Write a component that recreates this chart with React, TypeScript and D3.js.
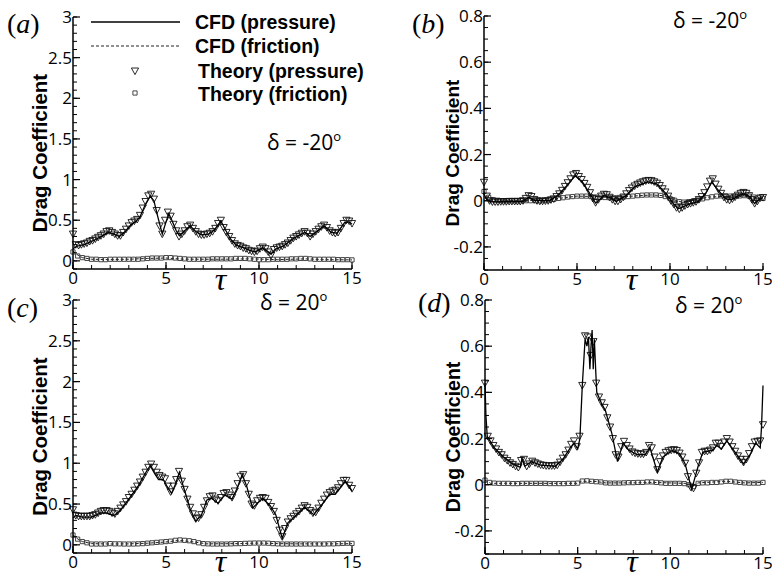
import React from "react";
import * as d3 from "d3";

const width = 772;
const height = 574;

// tau positions of the theory markers
const tauP = d3.range(0, 101).map((i) => +(i * 0.15).toFixed(2));
const tauF = d3.range(0, 61).map((i) => i * 0.25);

const xTicks = [0, 5, 10, 15];
const leftTicks = [0, 0.5, 1, 1.5, 2, 2.5, 3];
const rightTicks = [-0.2, 0, 0.2, 0.4, 0.6, 0.8];

const legendLabels = ["CFD (pressure)", "CFD (friction)", "Theory (pressure)", "Theory (friction)"];

// ---- panel (a) delta = -20, large scale
const aTheoryP = [
  0.33, 0.2, 0.19, 0.2, 0.21, 0.22, 0.24, 0.25, 0.27, 0.29, 0.31, 0.33, 0.36, 0.37, 0.35, 0.33, 0.31, 0.31, 0.35, 0.39,
  0.43, 0.47, 0.49, 0.51, 0.56, 0.65, 0.73, 0.8, 0.82, 0.76, 0.62, 0.43, 0.33, 0.5, 0.6, 0.55, 0.45, 0.37, 0.3, 0.33,
  0.37, 0.42, 0.44, 0.4, 0.36, 0.33, 0.32, 0.32, 0.33, 0.34, 0.36, 0.4, 0.46, 0.5, 0.41, 0.35, 0.3, 0.25, 0.21, 0.19,
  0.18, 0.16, 0.15, 0.13, 0.12, 0.11, 0.12, 0.15, 0.17, 0.15, 0.11, 0.07, 0.14, 0.16, 0.17, 0.18, 0.2, 0.22, 0.25, 0.28,
  0.3, 0.32, 0.34, 0.36, 0.34, 0.3, 0.33, 0.36, 0.39, 0.42, 0.44, 0.41, 0.37, 0.35, 0.34, 0.35, 0.4, 0.46, 0.5, 0.49,
  0.46,
];
const aTheoryF = [
  0.11, 0.06, 0.04, 0.03, 0.02, 0.02, 0.015, 0.015, 0.02, 0.02, 0.02, 0.02, 0.02, 0.02, 0.02, 0.025, 0.03, 0.035, 0.035, 0.035,
  0.04, 0.04, 0.035, 0.03, 0.025, 0.02, 0.02, 0.02, 0.02, 0.02, 0.025, 0.025, 0.025, 0.025, 0.025, 0.03, 0.03, 0.03, 0.025, 0.02,
  0.015, 0.015, 0.015, 0.02, 0.02, 0.02, 0.02, 0.025, 0.025, 0.03, 0.03, 0.025, 0.02, 0.02, 0.02, 0.02, 0.02, 0.015, 0.015, 0.015,
  0.012,
];
const aCfdP = [
  [0, 0.15], [0.2, 0.18], [0.6, 0.2], [1.2, 0.26], [1.6, 0.31], [1.9, 0.35], [2.2, 0.33], [2.5, 0.3], [2.8, 0.36],
  [3.1, 0.44], [3.4, 0.49], [3.6, 0.54], [3.9, 0.7], [4.15, 0.8], [4.35, 0.74], [4.55, 0.55], [4.8, 0.33], [5.0, 0.48],
  [5.15, 0.58], [5.35, 0.48], [5.55, 0.37], [5.72, 0.31], [6.0, 0.37], [6.3, 0.43], [6.6, 0.36], [6.9, 0.32], [7.3, 0.33],
  [7.6, 0.38], [7.95, 0.49], [8.2, 0.38], [8.5, 0.26], [8.8, 0.19], [9.2, 0.16], [9.5, 0.13], [9.8, 0.11], [10.2, 0.16],
  [10.45, 0.12], [10.65, 0.08], [10.85, 0.14], [11.3, 0.18], [11.8, 0.27], [12.2, 0.32], [12.5, 0.35], [12.75, 0.3],
  [13.1, 0.36], [13.5, 0.43], [13.9, 0.35], [14.2, 0.34], [14.6, 0.47], [14.85, 0.48], [15, 0.45],
];
const aCfdF = [
  [0, 0.12], [0.2, 0.08], [0.5, 0.04], [1, 0.02], [2, 0.015], [3, 0.02], [4, 0.03], [5, 0.035], [6, 0.02], [8, 0.02],
  [9.5, 0.025], [11, 0.015], [12.5, 0.025], [13.5, 0.015], [15, 0.012],
];

// ---- panel (b) delta = -20, small scale
const bTheoryP = [
  0.08, 0.02, 0.0, -0.005, -0.005, -0.005, -0.004, -0.004, -0.004, -0.003, -0.003, -0.003, -0.003, -0.003, 0.0, 0.01, 0.022, 0.018, 0.005, 0.0,
  -0.002, -0.002, -0.001, 0.0, 0.004, 0.008, 0.018, 0.03, 0.045, 0.062, 0.078, 0.095, 0.112, 0.118, 0.105, 0.092, 0.075, 0.058, 0.035, 0.01,
  -0.008, 0.005, 0.02, 0.028, 0.026, 0.015, 0.005, -0.002, -0.002, 0.006, 0.016, 0.03, 0.044, 0.055, 0.064, 0.071, 0.077, 0.082, 0.086, 0.088,
  0.087, 0.082, 0.076, 0.066, 0.052, 0.038, 0.02, 0.0, -0.015, -0.03, -0.036, -0.03, -0.022, -0.016, -0.012, -0.008, -0.004, 0.005, 0.018, 0.035,
  0.06, 0.085, 0.095, 0.072, 0.05, 0.032, 0.015, 0.005, 0.002, 0.008, 0.016, 0.024, 0.032, 0.036, 0.032, 0.022, 0.005, -0.012, -0.002, 0.012,
  0.014,
];
const bTheoryF = [
  0.04, 0.015, 0.005, 0.002, 0.0, 0.0, 0.0, 0.0, 0.0, 0.0, 0.0, 0.0, 0.0, 0.002, 0.003, 0.006, 0.01, 0.013, 0.016, 0.018,
  0.02, 0.02, 0.02, 0.018, 0.016, 0.015, 0.014, 0.013, 0.013, 0.014, 0.016, 0.018, 0.02, 0.022, 0.024, 0.025, 0.025, 0.025, 0.023, 0.018,
  0.01, 0.002, -0.004, -0.006, -0.004, -0.001, 0.003, 0.008, 0.013, 0.017, 0.02, 0.021, 0.021, 0.02, 0.02, 0.021, 0.022, 0.02, 0.016, 0.012,
  0.01,
];
const bCfdP = [
  [0, 0.03], [0.1, 0.01], [0.3, -0.005], [2.1, -0.003], [2.4, 0.015], [2.7, 0.002], [3.5, 0], [4, 0.025], [4.5, 0.07],
  [4.9, 0.108], [5.3, 0.08], [5.7, 0.03], [6.0, -0.01], [6.45, 0.022], [6.8, 0.012], [7.1, -0.003], [7.6, 0.02], [8.1, 0.06],
  [8.8, 0.082], [9.3, 0.072], [9.8, 0.03], [10.15, -0.01], [10.45, -0.035], [11, -0.016], [11.5, -0.004], [11.9, 0.03],
  [12.25, 0.08], [12.6, 0.045], [13.0, 0.008], [13.3, 0.004], [13.9, 0.03], [14.25, 0.02], [14.55, -0.012], [14.85, 0.01],
  [15, 0.012],
];
const bCfdF = [
  [0, 0.04], [0.2, 0.015], [0.5, 0.003], [2, 0.0], [3.5, 0.002], [4.2, 0.012], [5, 0.02], [6, 0.018], [7, 0.014], [8, 0.02],
  [9, 0.025], [9.6, 0.022], [10.2, 0.005], [10.6, -0.005], [11.3, 0.0], [12, 0.015], [13, 0.02], [14, 0.02], [15, 0.01],
];

// ---- panel (c) delta = 20, large scale
const cTheoryP = [
  0.43, 0.36, 0.35, 0.35, 0.35, 0.35, 0.35, 0.36, 0.37, 0.39, 0.41, 0.42, 0.42, 0.41, 0.39, 0.38, 0.41, 0.45, 0.49, 0.53,
  0.58, 0.62, 0.67, 0.72, 0.77, 0.83, 0.89, 0.95, 0.99, 0.95, 0.89, 0.85, 0.83, 0.81, 0.72, 0.65, 0.72, 0.8, 0.9, 0.78,
  0.68, 0.56, 0.46, 0.38, 0.32, 0.33, 0.37, 0.46, 0.54, 0.59, 0.6, 0.56, 0.54, 0.58, 0.63, 0.64, 0.61, 0.58, 0.66, 0.75,
  0.84, 0.86, 0.75, 0.62, 0.5, 0.48, 0.54, 0.57, 0.58, 0.57, 0.52, 0.47, 0.41, 0.3, 0.18, 0.1, 0.2, 0.28, 0.32, 0.35,
  0.38, 0.41, 0.45, 0.48, 0.46, 0.42, 0.39, 0.4, 0.45, 0.51, 0.56, 0.61, 0.64, 0.66, 0.67, 0.7, 0.75, 0.79, 0.79, 0.73,
  0.69,
];
const cTheoryF = [
  0.12, 0.07, 0.04, 0.025, 0.01, 0.01, 0.01, 0.01, 0.015, 0.012, 0.012, 0.01, 0.01, 0.01, 0.012, 0.015, 0.02, 0.025, 0.03, 0.035,
  0.04, 0.045, 0.055, 0.06, 0.055, 0.05, 0.04, 0.025, 0.015, 0.012, 0.01, 0.01, 0.01, 0.01, 0.012, 0.015, 0.015, 0.018, 0.02, 0.022,
  0.022, 0.022, 0.02, 0.015, 0.012, 0.01, 0.01, 0.01, 0.01, 0.01, 0.01, 0.01, 0.01, 0.01, 0.01, 0.012, 0.012, 0.015, 0.018, 0.02,
  0.018,
];
const cCfdP = [
  [0, 0.33], [0.15, 0.36], [0.5, 0.34], [1.0, 0.34], [1.5, 0.39], [1.8, 0.39], [2.2, 0.36], [2.5, 0.41], [3.0, 0.56],
  [3.5, 0.72], [4.0, 0.92], [4.15, 0.97], [4.4, 0.87], [4.6, 0.8], [4.85, 0.8], [5.05, 0.72], [5.3, 0.63], [5.5, 0.74],
  [5.72, 0.89], [5.9, 0.74], [6.3, 0.44], [6.6, 0.29], [6.9, 0.36], [7.2, 0.55], [7.45, 0.57], [7.8, 0.51], [8.15, 0.61],
  [8.55, 0.56], [8.8, 0.68], [9.1, 0.86], [9.35, 0.71], [9.65, 0.45], [10.2, 0.57], [10.6, 0.48], [10.9, 0.37],
  [11.25, 0.08], [11.55, 0.27], [11.9, 0.34], [12.45, 0.46], [12.95, 0.37], [13.4, 0.5], [13.8, 0.62], [14.1, 0.62],
  [14.45, 0.72], [14.65, 0.78], [15, 0.66],
];
const cCfdF = [
  [0, 0.12], [0.2, 0.08], [0.5, 0.04], [1, 0.015], [2, 0.01], [3, 0.012], [4, 0.02], [5, 0.035], [5.7, 0.055], [6.5, 0.035],
  [7.2, 0.012], [9, 0.015], [10, 0.022], [11, 0.015], [12, 0.012], [14, 0.012], [15, 0.015],
];

// ---- panel (d) delta = 20, small scale
const dTheoryP = [
  0.44, 0.21, 0.19, 0.17, 0.155, 0.14, 0.13, 0.115, 0.105, 0.095, 0.088, 0.08, 0.075, 0.105, 0.11, 0.08, 0.09, 0.102, 0.095, 0.09,
  0.086, 0.084, 0.082, 0.082, 0.082, 0.082, 0.085, 0.098, 0.115, 0.13, 0.15, 0.175, 0.19, 0.165, 0.21, 0.43, 0.645, 0.64, 0.56, 0.62,
  0.44, 0.38, 0.355, 0.335, 0.29, 0.25, 0.2, 0.13, 0.12, 0.165, 0.188, 0.17, 0.155, 0.142, 0.137, 0.134, 0.133, 0.133, 0.14, 0.17,
  0.16, 0.12, 0.065, 0.1, 0.125, 0.14, 0.147, 0.15, 0.152, 0.148, 0.137, 0.12, 0.093, 0.035, -0.01, -0.015, 0.05, 0.095, 0.14, 0.145,
  0.145, 0.15, 0.16, 0.18, 0.18, 0.166, 0.185, 0.2, 0.185, 0.165, 0.145, 0.125, 0.11, 0.097, 0.11, 0.135, 0.165, 0.185, 0.188, 0.19,
  0.26,
];
const dTheoryF = [
  0.02, 0.01, 0.007, 0.006, 0.006, 0.006, 0.005, 0.005, 0.006, 0.006, 0.006, 0.006, 0.006, 0.006, 0.005, 0.005, 0.005, 0.005, 0.006, 0.006,
  0.007, 0.016, 0.017, 0.015, 0.013, 0.012, 0.008, 0.007, 0.007, 0.007, 0.008, 0.009, 0.009, 0.01, 0.01, 0.012, 0.012, 0.01, 0.008, 0.006,
  0.006, 0.006, 0.006, 0.005, 0.0, -0.008, 0.006, 0.008, 0.008, 0.01, 0.01, 0.012, 0.015, 0.015, 0.012, 0.01, 0.008, 0.007, 0.007, 0.007,
  0.01,
];
const dCfdP = [
  [0, 0.44], [0.05, 0.3], [0.12, 0.21], [0.5, 0.16], [1, 0.12], [1.5, 0.09], [1.9, 0.075], [2.0, 0.115], [2.15, 0.08],
  [2.5, 0.1], [3, 0.085], [3.8, 0.08], [4.2, 0.11], [4.6, 0.16], [4.8, 0.18], [5.0, 0.155], [5.12, 0.2], [5.25, 0.43],
  [5.4, 0.63], [5.5, 0.6], [5.58, 0.64], [5.66, 0.5], [5.72, 0.6], [5.78, 0.67], [5.84, 0.5], [5.9, 0.63], [5.97, 0.5],
  [6.03, 0.4], [6.3, 0.35], [6.5, 0.32], [6.85, 0.22], [7.15, 0.1], [7.45, 0.18], [7.75, 0.15], [8.2, 0.13], [8.65, 0.13],
  [8.9, 0.16], [9.3, 0.055], [9.6, 0.12], [10.1, 0.148], [10.5, 0.135], [10.8, 0.09], [11.15, -0.02], [11.5, 0.08],
  [11.75, 0.14], [12.3, 0.15], [12.5, 0.17], [12.75, 0.155], [13.05, 0.19], [13.5, 0.14], [13.95, 0.09], [14.3, 0.13],
  [14.6, 0.18], [14.85, 0.16], [14.92, 0.25], [15, 0.43],
];
const dCfdF = [
  [0, 0.02], [0.3, 0.006], [5, 0.006], [5.2, 0.015], [6, 0.014], [6.5, 0.008], [8, 0.008], [9, 0.01], [10.8, 0.006],
  [11.2, -0.005], [11.5, 0.008], [13, 0.015], [14, 0.008], [15, 0.01],
];

const panels = [
  { id: "a", delta: "-20", left: 73, right: 352, top: 17, bottom: 269, yMin: -0.1, yMax: 3, ticks: leftTicks, minor: 0.1,
    theoryP: aTheoryP, theoryF: aTheoryF, cfdP: aCfdP, cfdF: aCfdF,
    label: [7, 33], deltaPos: [267, 150], titleX: 47, titleSize: 20.5, tauY: 290, legend: true },
  { id: "b", delta: "-20", left: 484, right: 763, top: 16, bottom: 270, yMin: -0.3, yMax: 0.8, ticks: rightTicks, minor: 0.05,
    theoryP: bTheoryP, theoryF: bTheoryF, cfdP: bCfdP, cfdF: bCfdF,
    label: [412, 33], deltaPos: [673, 28], titleX: 459, titleSize: 19, tauY: 290, legend: false },
  { id: "c", delta: "20", left: 73, right: 352, top: 300, bottom: 553, yMin: -0.1, yMax: 3, ticks: leftTicks, minor: 0.1,
    theoryP: cTheoryP, theoryF: cTheoryF, cfdP: cCfdP, cfdF: cCfdF,
    label: [7, 317], deltaPos: [260, 310], titleX: 47, titleSize: 20.5, tauY: 572, legend: false },
  { id: "d", delta: "20", left: 485, right: 763, top: 300, bottom: 554, yMin: -0.3, yMax: 0.8, ticks: rightTicks, minor: 0.05,
    theoryP: dTheoryP, theoryF: dTheoryF, cfdP: dCfdP, cfdF: dCfdF,
    label: [418, 312], deltaPos: [675, 313], titleX: 460, titleSize: 19.5, tauY: 572, legend: false },
];

const tickFont = "'Open Sans', sans-serif";
const boldFont = "'Liberation Sans', Arial, sans-serif";
const serif = "'Liberation Serif', 'Times New Roman', serif";
const tri = "M-3.6,-3L3.6,-3L0,3.6Z";
const sq = "M-2.1,-2.1H2.1V2.1H-2.1Z";

function Panel({ p }) {
  const x = d3.scaleLinear().domain([0, 15]).range([p.left, p.right]);
  const y = d3.scaleLinear().domain([p.yMin, p.yMax]).range([p.bottom, p.top]);
  const line = d3.line().x((d) => x(d[0])).y((d) => y(d[1]));
  const nMinor = Math.round((p.yMax - p.yMin) / p.minor);
  const yMinor = d3.range(0, nMinor + 1).map((i) => p.yMin + i * p.minor);
  const xMinor = d3.range(0, 16);
  const xl = x(0);
  const yb = y(p.yMin);

  return (
    <g>
      {/* series */}
      <path d={line(p.cfdF)} fill="none" stroke="#222" strokeWidth={1} strokeDasharray="3,2" />
      {p.theoryF.map((v, i) => (
        <path key={"f" + i} d={sq} transform={`translate(${x(tauF[i])},${y(v)})`} fill="none" stroke="#333" strokeWidth={0.9} />
      ))}
      {p.theoryP.map((v, i) => (
        <path key={"p" + i} d={tri} transform={`translate(${x(tauP[i])},${y(v)})`} fill="none" stroke="#111" strokeWidth={0.9} />
      ))}
      <path d={line(p.cfdP)} fill="none" stroke="#000" strokeWidth={1.3} />

      {/* axes */}
      <line x1={xl} x2={xl} y1={y(p.yMax)} y2={yb} stroke="#000" strokeWidth={1.5} />
      <line x1={xl} x2={x(15)} y1={yb} y2={yb} stroke="#000" strokeWidth={1.5} />
      {yMinor.map((v, i) => (
        <line key={"ym" + i} x1={xl} x2={xl + 4} y1={y(v)} y2={y(v)} stroke="#000" strokeWidth={1} />
      ))}
      {p.ticks.map((v) => (
        <g key={"yt" + v}>
          <line x1={xl} x2={xl + 7} y1={y(v)} y2={y(v)} stroke="#000" strokeWidth={1.2} />
          <text x={xl - 1} y={y(v) + 6} textAnchor="end" fontFamily={tickFont} fontSize={17}>{String(v)}</text>
        </g>
      ))}
      {xMinor.map((v) => (
        <line key={"xm" + v} x1={x(v)} x2={x(v)} y1={yb} y2={yb - 4} stroke="#000" strokeWidth={1} />
      ))}
      {xTicks.map((v) => (
        <g key={"xt" + v}>
          <line x1={x(v)} x2={x(v)} y1={yb} y2={yb - 7} stroke="#000" strokeWidth={1.2} />
          <text x={x(v)} y={yb + 15} textAnchor="middle" fontFamily={tickFont} fontSize={17}>{String(v)}</text>
        </g>
      ))}

      {/* titles */}
      <text transform={`translate(${p.titleX},${(y(p.yMin) + y(p.yMax)) / 2 + 10}) rotate(-90)`} textAnchor="middle"
        fontFamily={boldFont} fontWeight="bold" fontSize={p.titleSize}>Drag Coefficient</text>
      <text x={(x(0) + x(15)) / 2 + 8} y={p.tauY} textAnchor="middle" fontFamily={serif} fontStyle="italic" fontSize={32}>τ</text>
      <text x={p.label[0]} y={p.label[1]} fontFamily={serif} fontSize={28}>(<tspan fontStyle="italic">{p.id}</tspan>)</text>
      <text x={p.deltaPos[0]} y={p.deltaPos[1]} fontFamily={tickFont} fontSize={21}>
        {"δ = " + p.delta}<tspan dy={-9} fontSize={13}>o</tspan>
      </text>

      {p.legend && (
        <g fontFamily={boldFont} fontWeight="bold" fontSize={19.5}>
          <line x1={91} x2={180} y1={22} y2={22} stroke="#000" strokeWidth={1.3} />
          <line x1={91} x2={180} y1={46} y2={46} stroke="#222" strokeWidth={1} strokeDasharray="3,2" />
          <path d={tri} transform="translate(135,71)" fill="none" stroke="#111" strokeWidth={0.9} />
          <path d={sq} transform="translate(135,93)" fill="none" stroke="#333" strokeWidth={0.9} />
          {legendLabels.map((t, i) => (
            <text key={t} x={i < 2 ? 195 : 198} y={[29, 53, 78, 101][i]}>{t}</text>
          ))}
        </g>
      )}
    </g>
  );
}

export default function App() {
  return (
    <svg width={width} height={height} style={{ position: "absolute", left: 0, top: 0, background: "#fff" }}>
      <rect width={width} height={height} fill="#fff" />
      {panels.map((p) => (
        <Panel key={p.id} p={p} />
      ))}
    </svg>
  );
}
